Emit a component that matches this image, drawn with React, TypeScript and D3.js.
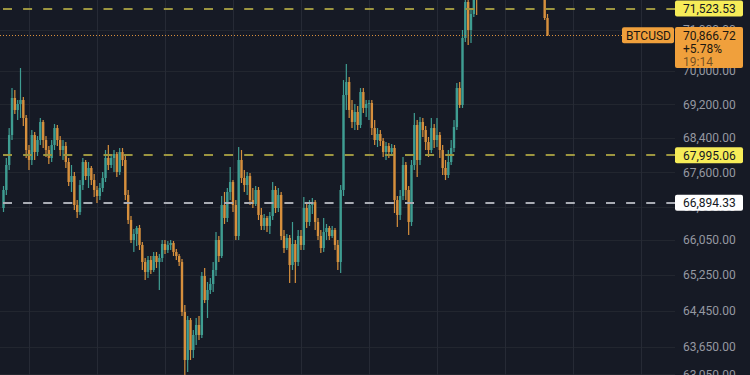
import React from "react";
import * as d3 from "d3";

// ---- data ----
const symbol = "BTCUSD";
const lastPrice = 70866.72;
const changeText = "+5.78%";
const countdown = "19:14";
const firstIndex = -9; // candle index relative to the first vertical grid line
const candlesPerGrid = 24;
const gridCount = 10;

const opens = [66772,67188,67769,68473,69352,69066,69209,69304,68876,68120,67886,68473,68073,68355,68781,68355,68120,67933,68238,68638,68355,68120,68214,67839,67373,67512,66841,66680,67303,67839,67512,67699,67419,67188,67049,67234,67466,67933,67769,67933,68026,67606,68073,67886,67072,66497,66040,66177,66314,65927,65541,65316,65586,65361,65677,65541,65631,65949,65813,65927,65972,65768,65677,65541,64422,63365,64244,63583,63913,64134,63913,65226,64688,64912,65046,65361,66040,65677,66841,66543,67142,67373,66841,66131,67886,67466,67303,67512,66956,66864,67188,66612,66360,66543,66360,66589,67188,66772,67072,66131,65858,66086,65473,65949,65541,66131,65927,66772,66451,66841,66910,66451,66131,65858,66222,66314,66131,66268,65927,65541,67188,69423,69735,69066,68781,69018,68710,69495,69114,69209,69233,68638,68355,68497,68332,68073,68214,68073,68167,66956,66612,67049,67769,67188,66451,67769,68710,67886,68781,68591,68308,68120,68638,68355,68473,68120,67699,67536,67839,68167,68662,69591,69185,70801,71685,70996,71389,72354,71932,72080,72250,72150,72000,72180,72400,72520,72450,72300,72380,72600,72500,72260,72350,72420,72200,72100,72180,72280,72120,71980,72050,71900,71290];
const closes = [67188,67769,68473,69352,69066,69209,69304,68876,68120,67886,68473,68073,68355,68781,68355,68120,67933,68238,68638,68355,68120,68214,67839,67373,67512,66841,66680,67303,67839,67512,67699,67419,67188,67049,67234,67466,67933,67769,67933,68026,67606,68073,67886,67072,66497,66040,66177,66314,65927,65541,65316,65586,65361,65677,65541,65631,65949,65813,65927,65972,65768,65677,65541,64422,63365,64244,63583,63913,64134,63913,65226,64688,64912,65046,65361,66040,65677,66841,66543,67142,67373,66841,66131,67886,67466,67303,67512,66956,66864,67188,66612,66360,66543,66360,66589,67188,66772,67072,66131,65858,66086,65473,65949,65541,66131,65927,66772,66451,66841,66910,66451,66131,65858,66222,66314,66131,66268,65927,65541,67188,69423,69735,69066,68781,69018,68710,69495,69114,69209,69233,68638,68355,68497,68332,68073,68214,68073,68167,66956,66612,67049,67769,67188,66451,67769,68710,67886,68781,68591,68308,68120,68638,68355,68473,68120,67699,67536,67839,68167,68662,69591,69185,70801,71685,70996,71389,72354,71932,72080,72250,72150,72000,72180,72400,72520,72450,72300,72380,72600,72500,72260,72350,72420,72200,72100,72180,72280,72120,71980,72050,71900,71290,70866.72];
const highs = [67280,67933,68638,69591,69543,69304,70072,69376,68947,68238,68591,68544,68449,68876,68828,68449,68214,68355,68733,68710,68449,68355,68308,67933,67769,67606,66956,67419,67933,67886,67839,67746,67559,67280,67350,67606,68120,68238,68026,68120,68073,68167,68167,68003,67188,66589,66291,66360,66383,65995,65631,65677,65677,65767,65767,65722,66040,66040,66017,66040,66017,65836,65722,65609,64577,64333,64288,64023,64288,64333,65316,65406,65091,65181,65541,66222,66131,67049,67142,67234,67722,67419,66956,68190,68120,67652,67606,67582,67234,67280,67257,66772,66634,66589,66680,67373,67280,67234,67142,66268,66177,66154,66451,66040,66268,66268,67026,66864,66956,67003,66956,66543,66268,66543,66405,66360,66360,66314,66040,67303,69783,70169,69855,69304,69209,69161,69591,69591,69304,69304,69304,68828,68638,68591,68402,68308,68285,68261,68238,67049,67188,67956,67839,67280,67886,68995,68828,68900,68876,68686,68426,68876,68733,68876,68544,68238,67886,68120,68355,68828,69711,69735,70996,71981,71858,71537,72478,72478,72150,72300,72400,72280,72200,72450,72600,72700,72550,72420,72650,72800,72580,72400,72500,72480,72300,72250,72350,72380,72200,72150,72180,72000,71389];
const lows = [66680,67072,67652,68355,68971,68828,68876,68686,67933,67652,67769,67886,67980,68238,68167,67956,67792,67839,68120,68214,67980,67886,67699,67280,67142,66726,66543,66612,67188,67419,67234,67303,67026,66887,66956,67142,67373,67652,67699,67606,67489,67536,67746,66956,66405,65972,65768,65904,65813,65361,65136,65181,65271,65316,65406,64912,65541,65722,65745,65813,65677,65586,65451,64333,62820,63103,63365,63409,63693,63803,63847,64621,64288,64822,64867,65226,65541,65631,66405,66451,66956,66680,66040,66040,67350,67142,67072,66841,66772,66818,66497,66268,66268,66222,66177,66497,66657,66680,66040,65745,65813,65069,65361,65069,65451,65813,65813,66314,66360,66634,66268,66040,65745,65768,66040,66040,66086,65813,65361,65293,67049,69066,68876,68638,68591,68591,68638,68995,68900,68828,68473,68238,68190,68214,67956,67886,67933,67980,66657,66337,66497,66956,66956,66154,66360,67652,67489,67769,68426,68120,67956,68050,68167,68190,67933,67536,67419,67466,67769,68073,68591,69114,69114,70703,70630,70679,71315,71364,71800,72000,72100,71950,71900,72120,72300,72380,72250,72150,72300,72450,72200,72100,72250,72150,72000,71950,72080,72050,71900,71850,71800,71241,70850];

const priceTicks = [71000, 70000, 69200, 68400, 67600, 66800, 66050, 65250, 64450, 63650, 63050];
const levelPrices = [71523.53, 67995.06, 66894.33];
const levelKinds = ["yellow", "yellow", "white"];

// ---- styles ----
const BG = "#161a25";
const GRID_V = "#262a35";
const GRID_H = "#22262f";
const UP = "#3f9d92";
const DOWN = "#d68f3d";
const AXIS_TEXT = "#9598a1";
const ORANGE_BOX = "#f0a03c";
const FONT = "Roboto, 'Noto Sans', sans-serif";

export default function App() {
  const W = 750;
  const H = 375;
  const plotW = 675;
  const x = d3.scaleLinear().domain([0, candlesPerGrid]).range([29, 97]);
  const y = d3.scaleLog().domain([63038, 71734]).range([H, 0]);
  const fmt = d3.format(",.2f");

  const gridXs = d3.range(gridCount).map((k) => Math.round(x(k * candlesPerGrid)) + 0.5);
  const bodyW = 2.4;

  const candles = opens.map((o, i) => {
    const c = closes[i];
    const cx = x(firstIndex + i);
    const yo = y(o);
    const yc = y(c);
    const top = Math.min(yo, yc);
    const h = Math.max(1, Math.abs(yo - yc));
    const col = c >= o ? UP : DOWN;
    return (
      <g key={i}>
        <rect x={cx - 0.6} y={y(highs[i])} width={1.2} height={Math.max(1, y(lows[i]) - y(highs[i]))} fill={col} />
        <rect x={cx - bodyW / 2} y={top} width={bodyW} height={h} fill={col} />
      </g>
    );
  });

  const lastY = y(lastPrice);

  return (
    <svg width={W} height={H} style={{ position: "fixed", left: 0, top: 0, display: "block" }} fontFamily={FONT}>
      <defs>
        <clipPath id="plotClip">
          <rect x={0} y={0} width={plotW} height={H} />
        </clipPath>
      </defs>
      <rect x={0} y={0} width={W} height={H} fill={BG} />
      {/* grid */}
      {priceTicks.map((p) => (
        <line key={"h" + p} x1={0} x2={plotW} y1={Math.round(y(p)) + 0.5} y2={Math.round(y(p)) + 0.5} stroke={GRID_H} strokeWidth={1} />
      ))}
      {gridXs.map((gx) => (
        <line key={"v" + gx} x1={gx} x2={gx} y1={0} y2={H} stroke={GRID_V} strokeWidth={1} />
      ))}
      {/* candles */}
      <g clipPath="url(#plotClip)">{candles}</g>
      {/* level lines */}
      {levelPrices.map((p, i) => (
        <line
          key={"l" + p}
          x1={3}
          x2={plotW}
          y1={Math.round(y(p))}
          y2={Math.round(y(p))}
          stroke={levelKinds[i] === "yellow" ? "#9c9540" : "#a9acb4"}
          strokeWidth={2}
          strokeDasharray="9 11.1"
        />
      ))}
      {/* last price dotted line */}
      <line x1={0} x2={622} y1={Math.round(lastY) + 0.5} y2={Math.round(lastY) + 0.5} stroke="#d98f3c" strokeWidth={1} strokeDasharray="1 2" />
      {/* axis labels */}
      {priceTicks.map((p) => (
        <text key={"t" + p} x={683} y={y(p) + 4.3} fontSize={12} fill={AXIS_TEXT}>
          {fmt(p)}
        </text>
      ))}
      {/* level labels */}
      {levelPrices.map((p, i) => (
        <g key={"lb" + p}>
          <rect x={675} y={y(p) - 8} width={68} height={16} rx={2} fill={levelKinds[i] === "yellow" ? "#f6ec58" : "#ffffff"} />
          <text x={683} y={y(p) + 4.3} fontSize={12} fill="#131722">
            {fmt(p)}
          </text>
        </g>
      ))}
      {/* symbol + price box */}
      <rect x={622} y={lastY - 8} width={52} height={16} rx={2} fill={ORANGE_BOX} />
      <text x={626} y={lastY + 4.3} fontSize={12} fill="#1b1712">
        {symbol}
      </text>
      <rect x={675} y={lastY - 8.3} width={68} height={41} rx={2} fill={ORANGE_BOX} />
      <text x={683} y={lastY + 4.3} fontSize={12} fill="#1b1712">
        {fmt(lastPrice)}
      </text>
      <text x={683} y={lastY + 17.3} fontSize={12} fill="#1b1712">
        {changeText}
      </text>
      <text x={683} y={lastY + 30.3} fontSize={12} fill="#1b1712" fillOpacity={0.6}>
        {countdown}
      </text>
    </svg>
  );
}
